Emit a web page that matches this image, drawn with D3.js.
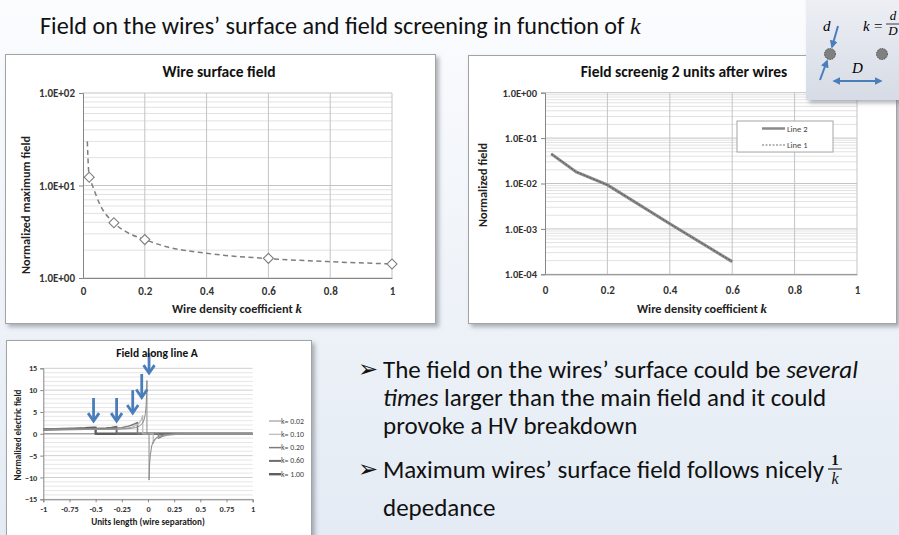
<!DOCTYPE html>
<html>
<head>
<meta charset="utf-8">
<script src="https://cdn.jsdelivr.net/npm/d3@7"></script>
<style>
  body { margin: 0; background: #fff; }
  svg { display: block; font-family: Carlito, Lato, "Open Sans", sans-serif; }
</style>
</head>
<body>
<svg id="slide" width="899" height="535"></svg>
<script>
// ---- Chart 1: wire surface field ----
const kPoints = [0.02, 0.1, 0.2, 0.6, 1];
const surfaceField = [12.3, 3.95, 2.6, 1.63, 1.42];
const fitK = [0.014, 0.017, 0.02, 0.028, 0.055, 0.1, 0.14, 0.2, 0.27, 0.4, 0.6, 0.8, 1];
const fitField = [30, 17, 12.3, 10.5, 6.2, 3.95, 3.15, 2.6, 2.18, 1.85, 1.62, 1.5, 1.42];
const wireTicksY = [1, 10, 100];
const wireLabelsY = ["1.0E+00", "1.0E+01", "1.0E+02"];
const kTicks = [0, 0.2, 0.4, 0.6, 0.8, 1];
const kLabels = ["0", "0.2", "0.4", "0.6", "0.8", "1"];

// ---- Chart 2: field screening ----
const screenK = [0.02, 0.1, 0.2, 0.4, 0.6];
const screenLine2 = [0.045, 0.018, 0.0093, 0.0013, 0.00019];
const screenLine1 = [0.045, 0.018, 0.0093, 0.0013, 0.00019];
const screenTicksY = [1e-4, 1e-3, 1e-2, 1e-1, 1];
const screenLabelsY = ["1.0E-04", "1.0E-03", "1.0E-02", "1.0E-01", "1.0E+00"];
const screenSeries = ["Line 2", "Line 1"];

// ---- Chart 3: field along line A ----
const fieldK002 = [[-1, 1.0], [-0.6, 1.0], [-0.3, 1.05], [-0.2, 1.15], [-0.12, 1.4], [-0.08, 1.8], [-0.05, 2.5],
  [-0.035, 3.4], [-0.025, 4.6], [-0.018, 6.5], [-0.013, 9], [-0.01, 12.2], [-0.01, 0], [0.01, 0], [0.01, -10.6],
  [0.015, -7], [0.022, -5], [0.035, -2.8], [0.05, -1.8], [0.07, -1.1], [0.1, -0.6], [0.15, -0.3], [0.2, -0.15], [0.3, -0.05], [1, 0]];
const fieldK010 = [[-1, 1.0], [-0.5, 1.02], [-0.3, 1.1], [-0.2, 1.3], [-0.15, 1.55], [-0.1, 2.1], [-0.08, 2.6],
  [-0.065, 3.2], [-0.05, 4.2], [-0.05, 0], [0.05, 0], [0.05, -2.2], [0.06, -1.6], [0.08, -1.0], [0.12, -0.5],
  [0.2, -0.2], [0.3, -0.05], [1, 0]];
const fieldK020 = [[-1, 1.0], [-0.6, 1.02], [-0.4, 1.1], [-0.3, 1.25], [-0.25, 1.4], [-0.2, 1.65], [-0.16, 1.95],
  [-0.13, 2.25], [-0.1, 2.6], [-0.1, 0], [0.1, 0], [0.1, -1.0], [0.14, -0.5], [0.2, -0.2], [0.3, -0.05], [1, 0]];
const fieldK060 = [[-1, 1.0], [-0.8, 1.03], [-0.6, 1.08], [-0.5, 1.15], [-0.4, 1.27], [-0.35, 1.38], [-0.3, 1.6], [-0.3, 0], [1, 0]];
const fieldK100 = [[-1, 1.05], [-0.9, 1.08], [-0.8, 1.12], [-0.7, 1.18], [-0.6, 1.26], [-0.52, 1.38], [-0.5, 1.42], [-0.5, 0], [1, 0]];
const lineALabels = ["k= 0.02", "k= 0.10", "k= 0.20", "k= 0.60", "k= 1.00"];
const lineATicksX = [-1, -0.75, -0.5, -0.25, 0, 0.25, 0.5, 0.75, 1];
const lineALabelsX = ["-1", "-0.75", "-0.5", "-0.25", "0", "0.25", "0.5", "0.75", "1"];
const lineATicksY = [-15, -10, -5, 0, 5, 10, 15];
// arrows marking the wire surface (x, tip value, tail value)
const arrowX = [-0.52, -0.3, -0.146, -0.06, 0.01];
const arrowTip = [2.9, 2.9, 4.75, 8.3, 13.9];
const arrowTail = [8.2, 8.2, 10, 13.7, 18.5];

const svg = d3.select("#slide");
const defs = svg.append("defs");

const bg = defs.append("linearGradient").attr("id", "bg").attr("x1", 0).attr("y1", 0).attr("x2", 0).attr("y2", 1);
bg.append("stop").attr("offset", "0%").attr("stop-color", "#fbfcfe");
bg.append("stop").attr("offset", "100%").attr("stop-color", "#e4ebf4");

const ig = defs.append("linearGradient").attr("id", "inset").attr("x1", 0).attr("y1", 0).attr("x2", 0).attr("y2", 1);
ig.append("stop").attr("offset", "0%").attr("stop-color", "#eef0f5");
ig.append("stop").attr("offset", "100%").attr("stop-color", "#d6dbe5");

const sh = defs.append("filter").attr("id", "shadow").attr("x", "-10%").attr("y", "-10%").attr("width", "130%").attr("height", "130%");
sh.append("feDropShadow").attr("dx", 3).attr("dy", 3).attr("stdDeviation", 2)
  .attr("flood-color", "#6f7480").attr("flood-opacity", 0.55);

defs.append("marker").attr("id", "ah").attr("viewBox", "0 0 10 10").attr("refX", 8).attr("refY", 5)
  .attr("markerWidth", 4).attr("markerHeight", 4).attr("orient", "auto-start-reverse")
  .append("path").attr("d", "M0,0L10,5L0,10z").attr("fill", "#4a7ebb");

svg.append("rect").attr("width", 899).attr("height", 535).attr("fill", "url(#bg)");

// slide title
const title = svg.append("text").attr("x", 40).attr("y", 34).attr("font-size", 24.2).attr("fill", "#111");
title.append("tspan").text("Field on the wires’ surface and field screening in function of ");
title.append("tspan").attr("font-family", "'Liberation Serif', serif").attr("font-style", "italic").attr("font-size", 24).text("k");

function panel(x, y, w, h) {
  svg.append("rect").attr("x", x).attr("y", y).attr("width", w).attr("height", h)
    .attr("fill", "#fff").attr("stroke", "#a3a3a3").attr("stroke-width", 1).attr("filter", "url(#shadow)");
}

function styleAxis(g, size, color) {
  g.select(".domain").attr("stroke", "#868686");
  g.selectAll(".tick line").attr("stroke", "#868686");
  g.selectAll(".tick text").attr("font-family", "Carlito, Lato, sans-serif")
    .attr("font-size", size).attr("font-weight", "bold").attr("fill", color || "#333");
}

// ================= Chart 1 =================
panel(5.5, 54.5, 430, 269);
{
  const x = d3.scaleLinear([0, 1], [83, 392]);
  const y = d3.scaleLog([1, 100], [278, 93]);
  const g = svg.append("g");

  g.append("g").selectAll("line").data(y.ticks()).join("line")
    .attr("x1", x(0)).attr("x2", x(1)).attr("y1", d => y(d)).attr("y2", d => y(d))
    .attr("stroke", d => wireTicksY.includes(d) ? "#c4c4c4" : "#e2e2e2");
  g.append("g").selectAll("line").data(kTicks.slice(1)).join("line")
    .attr("x1", d => x(d)).attr("x2", d => x(d)).attr("y1", y(1)).attr("y2", y(100))
    .attr("stroke", "#c4c4c4");

  g.append("g").attr("transform", `translate(${x(0)},0)`)
    .call(d3.axisLeft(y).tickValues(wireTicksY).tickFormat((d, i) => wireLabelsY[i]).tickSize(4).tickPadding(4))
    .call(a => styleAxis(a, 11));
  g.append("g").attr("transform", `translate(0,${y(1)})`)
    .call(d3.axisBottom(x).tickValues(kTicks).tickFormat((d, i) => kLabels[i]).tickSize(0).tickPadding(9))
    .call(a => styleAxis(a, 11));

  g.append("path")
    .datum(d3.zip(fitK, fitField))
    .attr("fill", "none").attr("stroke", "#7f7f7f").attr("stroke-width", 1.5).attr("stroke-dasharray", "5,3.5")
    .attr("d", d3.line().x(d => x(d[0])).y(d => y(d[1])).curve(d3.curveMonotoneX));

  g.append("g").selectAll("path").data(d3.zip(kPoints, surfaceField)).join("path")
    .attr("d", d3.symbol(d3.symbolSquare, 50))
    .attr("transform", d => `translate(${x(d[0])},${y(d[1])}) rotate(45)`)
    .attr("fill", "#fff").attr("stroke", "#7f7f7f").attr("stroke-width", 1.1);

  g.append("text").attr("x", 219).attr("y", 77).attr("text-anchor", "middle")
    .attr("font-size", 15.5).attr("font-weight", "bold").attr("fill", "#111").text("Wire surface field");
  const xl = g.append("text").attr("x", 237).attr("y", 313).attr("text-anchor", "middle")
    .attr("font-size", 12.3).attr("font-weight", "bold").attr("fill", "#222");
  xl.append("tspan").text("Wire density coefficient ");
  xl.append("tspan").attr("font-family", "'Liberation Serif', serif").attr("font-style", "italic").attr("font-size", 13).text("k");
  g.append("text").attr("transform", "translate(30,205) rotate(-90)").attr("text-anchor", "middle")
    .attr("font-size", 12.3).attr("font-weight", "bold").attr("fill", "#222").text("Normalized maximum field");
}

// ================= Chart 2 =================
panel(468.5, 55.5, 428, 268);
{
  const x = d3.scaleLinear([0, 1], [545, 857]);
  const y = d3.scaleLog([1e-4, 1], [274.3, 92.7]);
  const g = svg.append("g");

  g.append("g").selectAll("line").data(y.ticks()).join("line")
    .attr("x1", x(0)).attr("x2", x(1)).attr("y1", d => y(d)).attr("y2", d => y(d))
    .attr("stroke", d => screenTicksY.includes(d) ? "#c4c4c4" : "#e2e2e2");
  g.append("g").selectAll("line").data(kTicks.slice(1)).join("line")
    .attr("x1", d => x(d)).attr("x2", d => x(d)).attr("y1", y(1e-4)).attr("y2", y(1))
    .attr("stroke", "#c4c4c4");

  g.append("g").attr("transform", `translate(${x(0)},0)`)
    .call(d3.axisLeft(y).tickValues(screenTicksY).tickFormat((d, i) => screenLabelsY[i]).tickSize(4).tickPadding(4))
    .call(a => styleAxis(a, 10.5));
  g.append("g").attr("transform", `translate(0,${y(1e-4)})`)
    .call(d3.axisBottom(x).tickValues(kTicks).tickFormat((d, i) => kLabels[i]).tickSize(0).tickPadding(12))
    .call(a => styleAxis(a, 11));

  const line = d3.line().x(d => x(d[0])).y(d => y(d[1]));
  g.append("path").datum(d3.zip(screenK, screenLine2))
    .attr("fill", "none").attr("stroke", "#8a8a8a").attr("stroke-width", 3).attr("d", line);
  g.append("path").datum(d3.zip(screenK, screenLine1))
    .attr("fill", "none").attr("stroke", "#4d4d4d").attr("stroke-width", 0.8).attr("stroke-dasharray", "2,1.5").attr("d", line);

  // legend
  const lg = g.append("g").attr("transform", "translate(737,121)");
  lg.append("rect").attr("width", 96).attr("height", 31).attr("fill", "#fff").attr("stroke", "#a6a6a6");
  screenSeries.forEach((s, i) => {
    const yy = 7.5 + i * 16.5;
    lg.append("line").attr("x1", 25).attr("x2", 48).attr("y1", yy).attr("y2", yy)
      .attr("stroke", i === 0 ? "#8a8a8a" : "#4d4d4d").attr("stroke-width", i === 0 ? 2.5 : 0.8)
      .attr("stroke-dasharray", i === 0 ? null : "2,1.5");
    lg.append("text").attr("x", 50).attr("y", yy + 3).attr("font-size", 8.5).attr("fill", "#444").text(s);
  });

  g.append("text").attr("x", 684).attr("y", 77).attr("text-anchor", "middle")
    .attr("font-size", 15.5).attr("font-weight", "bold").attr("fill", "#111").text("Field screenig 2 units after wires");
  const xl = g.append("text").attr("x", 702).attr("y", 313).attr("text-anchor", "middle")
    .attr("font-size", 12.3).attr("font-weight", "bold").attr("fill", "#222");
  xl.append("tspan").text("Wire density coefficient ");
  xl.append("tspan").attr("font-family", "'Liberation Serif', serif").attr("font-style", "italic").attr("font-size", 13).text("k");
  g.append("text").attr("transform", "translate(487,185) rotate(-90)").attr("text-anchor", "middle")
    .attr("font-size", 12.3).attr("font-weight", "bold").attr("fill", "#222").text("Normalized field");
}

// ================= Inset diagram =================
{
  const g = svg.append("g");
  g.append("rect").attr("x", 806).attr("y", -6).attr("width", 100).attr("height", 106)
    .attr("fill", "url(#inset)").attr("filter", "url(#shadow)");
  g.selectAll("circle").data([830, 882]).join("circle")
    .attr("cx", d => d).attr("cy", 54).attr("r", 5.5)
    .attr("fill", "#808080").attr("stroke", "#3a3a3a").attr("stroke-width", 0.8).attr("stroke-dasharray", "1.5,1");
  const arrow = (x1, y1, x2, y2, both) => g.append("line")
    .attr("x1", x1).attr("y1", y1).attr("x2", x2).attr("y2", y2)
    .attr("stroke", "#4a7ebb").attr("stroke-width", 2)
    .attr("marker-end", "url(#ah)").attr("marker-start", both ? "url(#ah)" : null);
  arrow(838, 26, 832, 47);
  arrow(820, 80, 827, 61);
  arrow(834, 81, 881, 81, true);
  const serif = "'Liberation Serif', serif";
  g.append("text").attr("x", 823).attr("y", 31).attr("font-family", serif).attr("font-style", "italic").attr("font-size", 15).text("d");
  g.append("text").attr("x", 852).attr("y", 73).attr("font-family", serif).attr("font-style", "italic").attr("font-size", 15).text("D");
  g.append("text").attr("x", 863).attr("y", 31).attr("font-family", serif).attr("font-style", "italic").attr("font-size", 15).text("k");
  g.append("text").attr("x", 874).attr("y", 31).attr("font-family", serif).attr("font-size", 15).text("=");
  g.append("text").attr("x", 893).attr("y", 20).attr("text-anchor", "middle").attr("font-family", serif).attr("font-style", "italic").attr("font-size", 13).text("d");
  g.append("line").attr("x1", 886).attr("x2", 899).attr("y1", 24).attr("y2", 24).attr("stroke", "#111").attr("stroke-width", 0.8);
  g.append("text").attr("x", 893).attr("y", 35).attr("text-anchor", "middle").attr("font-family", serif).attr("font-style", "italic").attr("font-size", 13).text("D");
}

// ================= Chart 3 =================
panel(6.5, 340.5, 305, 210);
{
  const x = d3.scaleLinear([-1, 1], [43.3, 252.7]);
  const y = d3.scaleLinear([-15, 15], [499.3, 368.3]);
  const g = svg.append("g");

  g.append("g").selectAll("line").data(d3.range(-15, 16)).join("line")
    .attr("x1", x(-1)).attr("x2", x(1)).attr("y1", d => y(d)).attr("y2", d => y(d))
    .attr("stroke", d => lineATicksY.includes(d) ? "#cfcfcf" : "#e6e6e6");
  g.append("line").attr("x1", x(-1)).attr("x2", x(1)).attr("y1", y(0)).attr("y2", y(0)).attr("stroke", "#868686");

  g.append("g").attr("transform", `translate(${x(-1)},0)`)
    .call(d3.axisLeft(y).tickValues(lineATicksY).tickSize(3).tickPadding(3))
    .call(a => styleAxis(a, 8.3));
  g.append("g").attr("transform", `translate(0,${y(-15)})`)
    .call(d3.axisBottom(x).tickValues(lineATicksX).tickFormat((d, i) => lineALabelsX[i]).tickSize(3).tickPadding(4))
    .call(a => styleAxis(a, 8.3));

  const series = [
    { label: lineALabels[4], pts: fieldK100, color: "#5f5f5f", w: 2.4 },
    { label: lineALabels[3], pts: fieldK060, color: "#6e6e6e", w: 2 },
    { label: lineALabels[2], pts: fieldK020, color: "#7d7d7d", w: 1.5 },
    { label: lineALabels[1], pts: fieldK010, color: "#b8b8b8", w: 1.2 },
    { label: lineALabels[0], pts: fieldK002, color: "#8a8a8a", w: 1 }
  ];
  const line = d3.line().x(d => x(d[0])).y(d => y(d[1]));
  g.append("g").selectAll("path").data(series).join("path")
    .attr("fill", "none").attr("stroke", d => d.color).attr("stroke-width", d => d.w)
    .attr("stroke-linejoin", "round").attr("d", d => line(d.pts));

  // legend (k=0.02 first)
  const lg = g.append("g");
  series.slice().reverse().forEach((s, i) => {
    const yy = 421 + i * 13.3;
    lg.append("line").attr("x1", 269).attr("x2", 281).attr("y1", yy).attr("y2", yy)
      .attr("stroke", s.color).attr("stroke-width", s.w);
    lg.append("text").attr("x", 281).attr("y", yy + 2.5).attr("font-size", 7.8).attr("fill", "#444").text(s.label);
  });

  // blue arrows
  const ag = g.append("g").attr("stroke", "#4a7ebb").attr("stroke-width", 2.8).attr("fill", "none")
    .attr("stroke-linecap", "butt");
  arrowX.forEach((ax, i) => {
    const px = x(ax), tip = y(arrowTip[i]), tail = y(arrowTail[i]);
    ag.append("line").attr("x1", px).attr("x2", px).attr("y1", tail).attr("y2", tip - 1);
    ag.append("path").attr("d", `M${px - 5.5},${tip - 8}L${px},${tip}L${px + 5.5},${tip - 8}`);
  });

  g.append("text").attr("x", 157).attr("y", 357).attr("text-anchor", "middle")
    .attr("font-size", 11.5).attr("font-weight", "bold").attr("fill", "#111").text("Field along line A");
  g.append("text").attr("x", 148).attr("y", 525).attr("text-anchor", "middle")
    .attr("font-size", 9.2).attr("font-weight", "bold").attr("fill", "#222").text("Units length (wire separation)");
  g.append("text").attr("transform", "translate(21,435) rotate(-90)").attr("text-anchor", "middle")
    .attr("font-size", 9).attr("font-weight", "bold").attr("fill", "#222").text("Normalized electric field");
}

// ================= Bullet text =================
{
  const g = svg.append("g").attr("fill", "#111").attr("font-size", 25);
  const bulletX = 358, textX = 383;
  const rows = [
    { y: 378, bullet: true, parts: [["The field on the wires’ surface could be ", false], ["several", true]] },
    { y: 406, parts: [["times", true], [" larger than the main field and it could", false]] },
    { y: 434, parts: [["provoke a HV breakdown", false]] },
    { y: 478, bullet: true, parts: [["Maximum wires’ surface field follows nicely", false]], frac: true },
    { y: 516, parts: [["depedance", false]] }
  ];
  rows.forEach(r => {
    if (r.bullet) {
      g.append("text").attr("x", bulletX).attr("y", r.y - 1).attr("font-family", "'DejaVu Sans', sans-serif")
        .attr("font-size", 24).text("➢");
    }
    const t = g.append("text").attr("x", textX).attr("y", r.y);
    r.parts.forEach(([s, it]) => t.append("tspan").attr("font-style", it ? "italic" : null).text(s));
    if (r.frac) {
      const fx = textX + t.node().getComputedTextLength() + 11;
      const serif = "'Liberation Serif', serif";
      g.append("text").attr("x", fx).attr("y", r.y - 13).attr("text-anchor", "middle")
        .attr("font-family", serif).attr("font-size", 15).attr("font-weight", "bold").text("1");
      g.append("line").attr("x1", fx - 7).attr("x2", fx + 7).attr("y1", r.y - 9).attr("y2", r.y - 9)
        .attr("stroke", "#111").attr("stroke-width", 1.1);
      g.append("text").attr("x", fx).attr("y", r.y + 6).attr("text-anchor", "middle")
        .attr("font-family", serif).attr("font-style", "italic").attr("font-size", 16).text("k");
    }
  });
}
</script>
</body>
</html>
